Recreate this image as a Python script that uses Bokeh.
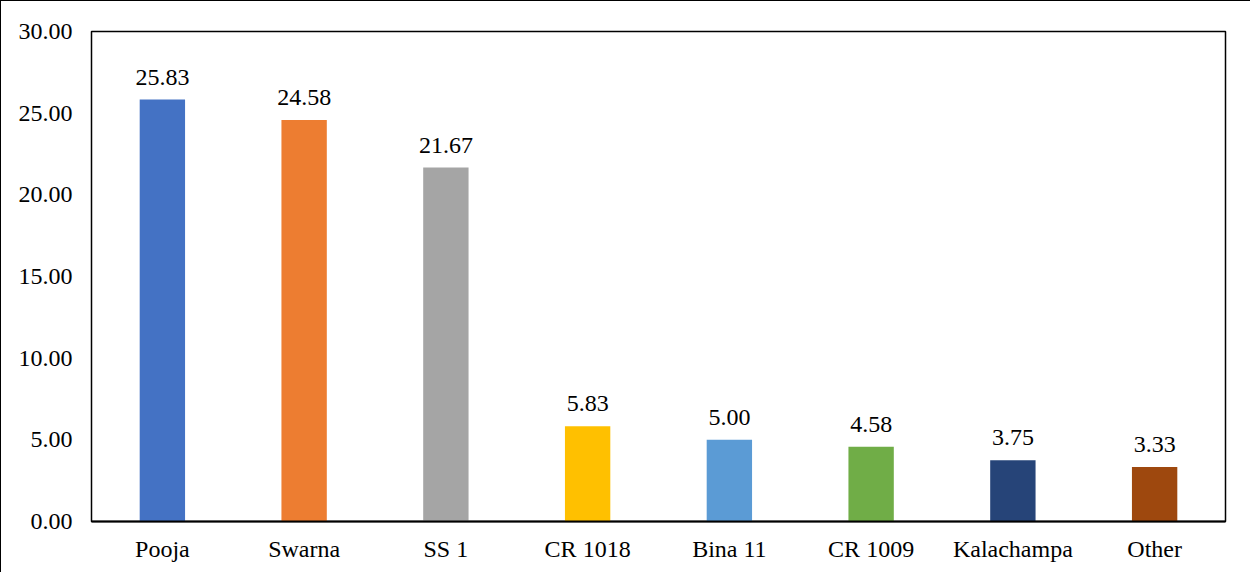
from bokeh.plotting import figure
from bokeh.models import ColumnDataSource, FixedTicker, NumeralTickFormatter, Range1d
from bokeh.core.properties import value
from bokeh.embed import file_html
from bokeh.resources import INLINE

categories = ["Pooja", "Swarna", "SS 1", "CR 1018", "Bina 11", "CR 1009", "Kalachampa", "Other"]
values = [25.83, 24.58, 21.67, 5.83, 5.00, 4.58, 3.75, 3.33]
colors = ["#4472C4", "#ED7D31", "#A5A5A5", "#FFC000", "#5B9BD5", "#70AD47", "#264478", "#9E480E"]
y_ticks = [0, 5, 10, 15, 20, 25, 30]

FONT = "'Liberation Serif', 'Times New Roman', serif"

src = ColumnDataSource(dict(
    cat=categories,
    val=values,
    color=colors,
    label=[f"{v:.2f}" for v in values],
))

p = figure(
    x_range=categories,
    y_range=Range1d(0, 30),
    width=1250, height=572,
    output_backend="svg", toolbar_location=None,
    min_border_left=90, min_border_right=26, min_border_top=30, min_border_bottom=52,
)
p.styles = {"border-left": "1.5px solid black", "border-top": "1.5px solid black"}

p.vbar(x="cat", top="val", width=0.32, color="color", source=src, line_color=None)
p.text(x="cat", y="val", text="label", source=src,
       text_align="center", text_baseline="bottom", y_offset=-15,
       text_font=value(FONT), text_font_size="18pt", text_color="black")

p.xgrid.grid_line_color = None
p.ygrid.grid_line_color = None
p.outline_line_color = "black"
p.outline_line_width = 1.5
p.background_fill_color = "white"
p.border_fill_color = "white"

p.yaxis.ticker = FixedTicker(ticks=y_ticks)
p.yaxis.formatter = NumeralTickFormatter(format="0.00")
for ax in (p.xaxis[0], p.yaxis[0]):
    ax.axis_line_color = None
    ax.major_tick_line_color = None
    ax.minor_tick_line_color = None
    ax.major_label_text_font = FONT
    ax.major_label_text_font_size = "18pt"
    ax.major_label_text_color = "black"
p.xaxis.axis_line_color = "black"
p.xaxis.axis_line_width = 2
p.yaxis.major_label_standoff = 13
p.xaxis.major_label_standoff = 8

open("out.html", "w").write(file_html(p, INLINE))
